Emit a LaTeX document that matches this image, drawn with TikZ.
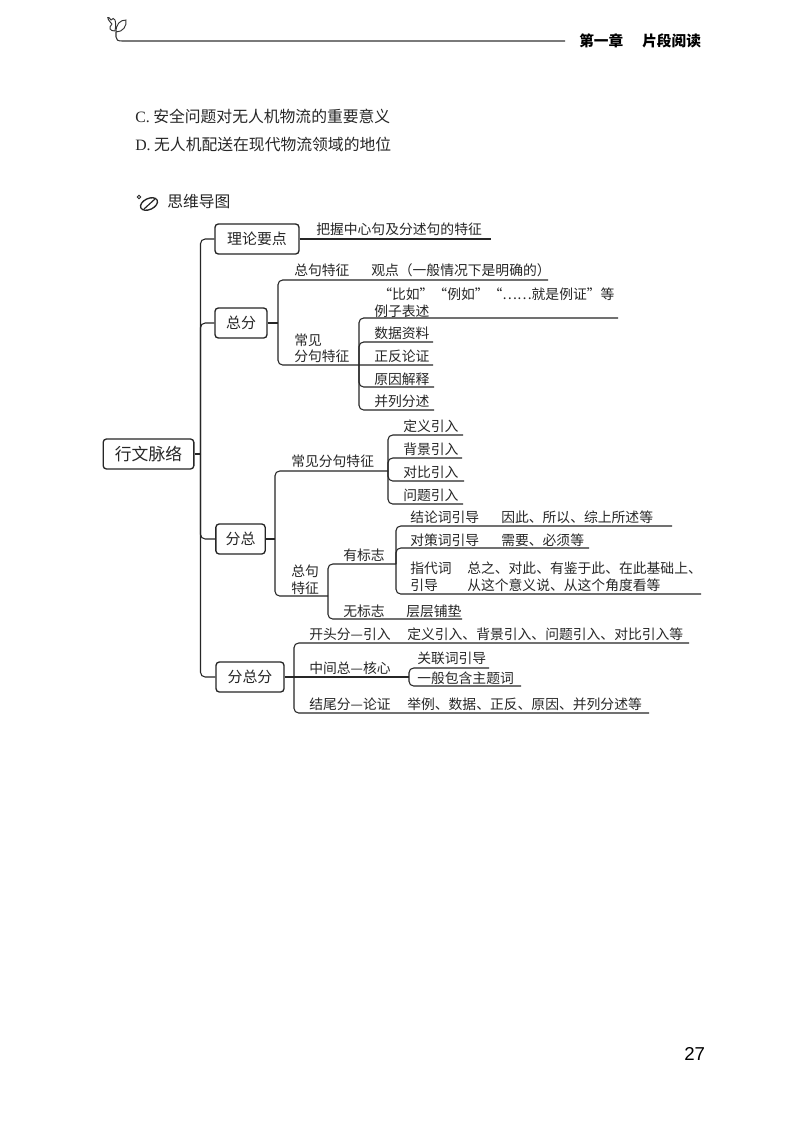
\documentclass[tikz,border=0pt]{standalone}
\usepackage{fontspec}
\setmainfont{Noto Sans CJK SC}
\newfontfamily\latinserif{Liberation Serif}
\newfontfamily\latinsans{Liberation Sans}
\tikzset{
  txt/.style={anchor=west,inner sep=0pt,font=\fontsize{10.35pt}{12pt}\selectfont,text=black!85},
  bodytxt/.style={anchor=west,inner sep=0pt,font=\fontsize{11.85pt}{14pt}\selectfont,text=black!85},
  ln/.style={line width=0.8pt,rounded corners=3.5pt,draw=black!85},
  topicbox/.style={draw=black!85,line width=1pt,rounded corners=2.5pt,inner sep=0pt,
    font=\fontsize{11.2pt}{13pt}\selectfont,text=black!85,minimum height=22.5pt},
  rootbox/.style={topicbox,font=\fontsize{12.6pt}{15pt}\selectfont}
}
\begin{document}
\begin{tikzpicture}[x=0.75pt,y=-0.75pt]
\useasboundingbox[fill=white] (0,0) rectangle (800,1132);

% header
\draw[line width=0.7pt,black!80] (112,24) .. controls (105,17) and (108,15) .. (111,20) .. controls (114,16) and (117,20) .. (115,31) .. controls (110,31) and (108,28) .. (112,24);
\draw[line width=0.7pt,black!80] (116,32) .. controls (116,24) and (120,20) .. (126,20) .. controls (127,26) and (123,32) .. (116,32);
\draw[line width=0.8pt,black!80] (116,32) -- (116,37) .. controls (116,40) and (118,41) .. (122,41) -- (565,41);
\node[inner sep=0pt,anchor=west,font=\fontsize{11pt}{13pt}\selectfont\bfseries] (chap) at (579,41) {第一章};
\node[inner sep=0pt,anchor=west,font=\fontsize{11pt}{13pt}\selectfont\bfseries] (sect) at (642,41) {片段阅读};

% options
\node[bodytxt] (optc) at (135,116) {{\latinserif C.} 安全问题对无人机物流的重要意义};
\node[bodytxt] (optd) at (135,144) {{\latinserif D.} 无人机配送在现代物流领域的地位};

% heading
\draw[line width=0.6pt,black!85] (139,197) circle (1.7);
\draw[line width=1pt,black!85,rotate around={25:(149,204)}] (149,204) ellipse (9 and 5.5);
\draw[line width=0.9pt,black!85] (144,209) -- (155,199);
\node[bodytxt] (mm) at (167,202) {思维导图};

% boxes
\node[rootbox,minimum width=68pt] (root) at (148.5,454) {行文脉络};
\node[topicbox,minimum width=63pt] (ll) at (257,239) {理论要点};
\node[topicbox,minimum width=39pt] (zf) at (241,323) {总分};
\node[topicbox,minimum width=37pt] (fz) at (240.5,539) {分总};
\node[topicbox,minimum width=51pt] (fzf) at (250,677) {分总分};

% trunk
\coordinate (tr) at (200.5,454);
\draw[ln] (ll.west) -| (tr) |- (fzf.west);
\draw[ln] (zf.west) -| (tr);
\draw[ln] (fz.west) -| (tr);
\draw[ln] (root.east) -- (tr);

% 理论要点
\coordinate (lle) at (491,239);
\draw[ln] (ll.east) -- (lle);
\node[txt] (ll1) at (316,229) {把握中心句及分述句的特征};

% 总分
\coordinate (zfj) at (278,323);
\coordinate (zfT) at (548,280);
\coordinate (zfB) at (433,365);
\draw[ln] (zf.east) -- (zfj);
\draw[ln] (zfT) -| (zfj) |- (zfB);
\node[txt] (zf1) at (294,270) {总句特征};
\node[txt] (zf2) at (371,270) {观点（一般情况下是明确的）};
\node[txt] (zf3) at (294,340) {常见};
\node[txt] (zf4) at (294,356) {分句特征};
\node[txt] (zf5) at (378,294) {“比如”“例如”“……就是例证”等};
\coordinate (fjm) at (359,365);
\coordinate (fjT) at (618,318);
\coordinate (fjB) at (434,410);
\coordinate (fj2) at (433,342);
\coordinate (fj4) at (434,387);
\draw[ln] (fjT) -| (fjm) |- (fjB);
\draw[ln] (fj2) -| (fjm);
\draw[ln] (fj4) -| (fjm);
\node[txt] (fa1) at (374,311) {例子表述};
\node[txt] (fa2) at (374,333) {数据资料};
\node[txt] (fa3) at (374,356) {正反论证};
\node[txt] (fa4) at (374,379) {原因解释};
\node[txt] (fa5) at (374,401) {并列分述};

% 分总
\coordinate (fzj) at (275,539);
\coordinate (fzT) at (388,471);
\coordinate (fzB) at (328,596);
\draw[ln] (fz.east) -- (fzj);
\draw[ln] (fzT) -| (fzj) |- (fzB);
\node[txt] (fz1) at (291,461) {常见分句特征};
\node[txt] (fz2) at (291,571) {总句};
\node[txt] (fz3) at (291,588) {特征};
\coordinate (inT) at (463,435);
\coordinate (in2) at (462,458);
\coordinate (in3) at (464,481);
\coordinate (inB) at (463,504);
\draw[ln] (inT) -| (fzT) |- (inB);
\draw[ln] (in2) -| (fzT);
\draw[ln] (in3) -| (fzT);
\node[txt] (in1t) at (403,426) {定义引入};
\node[txt] (in2t) at (403,449) {背景引入};
\node[txt] (in3t) at (403,472) {对比引入};
\node[txt] (in4t) at (403,495) {问题引入};
\coordinate (mkj) at (328,596);
\coordinate (mkT) at (396,564);
\coordinate (mkB) at (462,619);
\draw[ln] (mkT) -| (mkj) |- (mkB);
\node[txt] (mk1) at (343,555) {有标志};
\node[txt] (mk2) at (343,611) {无标志};
\node[txt] (mk3) at (406,611) {层层铺垫};
\coordinate (ydT) at (672,526);
\coordinate (yd2) at (589,548);
\coordinate (ydB) at (701,594);
\draw[ln] (ydT) -| (mkT) |- (ydB);
\draw[ln] (yd2) -| (mkT);
\node[txt] (yd1a) at (410,517) {结论词引导};
\node[txt] (yd1b) at (501,517) {因此、所以、综上所述等};
\node[txt] (yd2a) at (410,540) {对策词引导};
\node[txt] (yd2b) at (501,540) {需要、必须等};
\node[txt] (yd3a) at (410,568) {指代词};
\node[txt] (yd3b) at (410,585) {引导};
\node[txt] (yd3c) at (467,568) {总之、对此、有鉴于此、在此基础上、};
\node[txt] (yd3d) at (467,585) {从这个意义说、从这个角度看等};

% 分总分
\coordinate (zzj) at (294,677);
\coordinate (zzT) at (689,643);
\coordinate (zzB) at (649,713);
\coordinate (hx) at (409,677);
\coordinate (hxT) at (489,668);
\coordinate (hxB) at (521,686);
\draw[ln] (zzT) -| (zzj) |- (zzB);
\draw[ln] (fzf.east) -- (hx);
\draw[ln] (hxT) -| (hx) |- (hxB);
\node[txt] (z1a) at (309,634) {开头分—引入};
\node[txt] (z1b) at (407,634) {定义引入、背景引入、问题引入、对比引入等};
\node[txt] (z2a) at (309,668) {中间总—核心};
\node[txt] (z2b) at (417,658) {关联词引导};
\node[txt] (z2c) at (417,678) {一般包含主题词};
\node[txt] (z3a) at (309,704) {结尾分—论证};
\node[txt] (z3b) at (407,704) {举例、数据、正反、原因、并列分述等};

% page number
\node[inner sep=0pt,anchor=west,font=\fontsize{14pt}{16pt}\latinsans] (pg) at (684,1054) {27};
\end{tikzpicture}
\end{document}
